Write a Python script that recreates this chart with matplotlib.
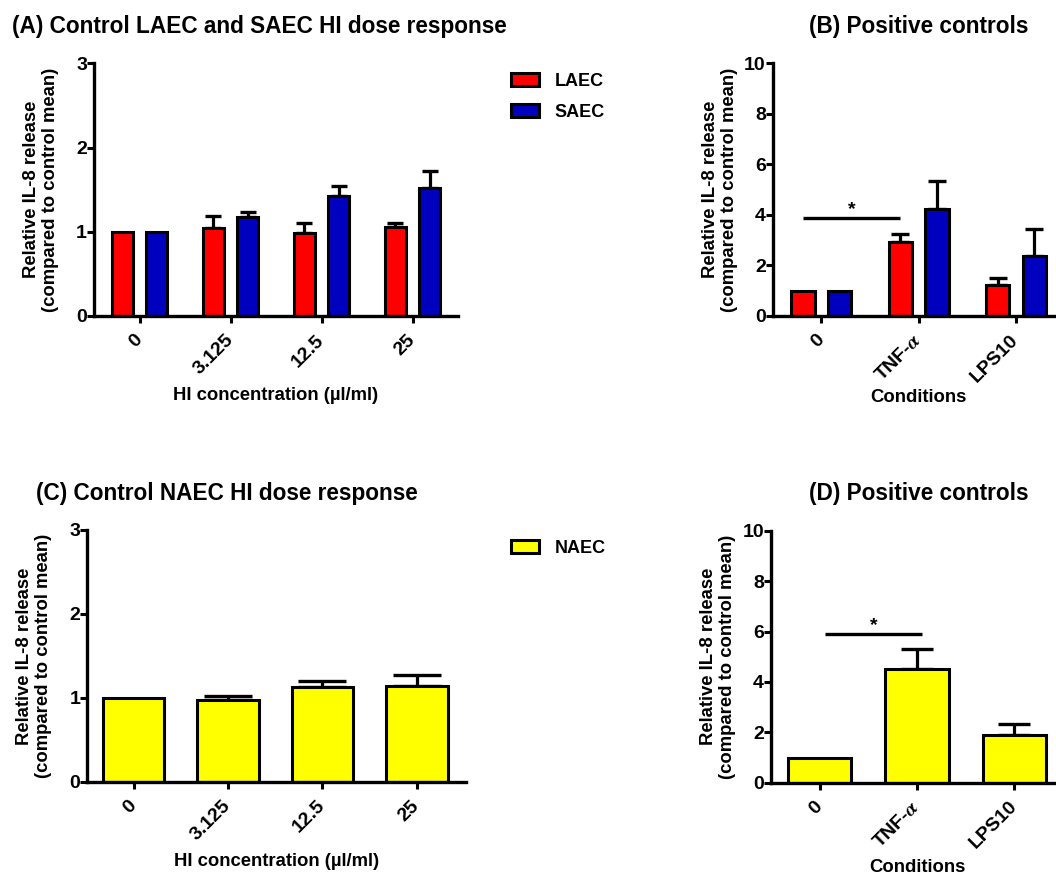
import numpy as np
import matplotlib
matplotlib.use("Agg")
import matplotlib.pyplot as plt

plt.rcParams["font.family"] = ["Liberation Sans", "DejaVu Sans"]
plt.rcParams["font.weight"] = "bold"
plt.rcParams["mathtext.fontset"] = "stix"

# ---- data ----
dose_labels = ["0", "3.125", "12.5", "25"]
laec_dose_mean = [1.00, 1.04, 0.99, 1.06]
laec_dose_sem = [0.00, 0.15, 0.11, 0.045]
saec_dose_mean = [1.00, 1.17, 1.42, 1.52]
saec_dose_sem = [0.00, 0.065, 0.12, 0.20]

cond_labels = ["0", "TNF-$\\alpha$", "LPS10"]
laec_cond_mean = [1.00, 2.94, 1.21]
laec_cond_sem = [0.00, 0.30, 0.31]
saec_cond_mean = [1.00, 4.23, 2.39]
saec_cond_sem = [0.00, 1.13, 1.05]

naec_dose_mean = [1.00, 0.97, 1.125, 1.145]
naec_dose_sem = [0.00, 0.055, 0.075, 0.13]

naec_cond_mean = [1.00, 4.52, 1.88]
naec_cond_sem = [0.00, 0.78, 0.44]

# significance bars: (first category, second category, height)
sig_two = (0, 1, 3.87)
sig_one = (0, 1, 5.89)

series_two = ["LAEC", "SAEC"]
series_one = ["NAEC"]

RED, BLUE, YELLOW = "#ff0000", "#0000bf", "#ffff00"

W, H = 1056, 877
fig = plt.figure(figsize=(W / 100, H / 100), dpi=100)


def px_rect(left, right, top, bottom):
    return [left / W, 1 - bottom / H, (right - left) / W, (bottom - top) / H]


YLABEL = "Relative IL-8 release\n(compared to control mean)"


def style_axes(ax, width_px, xlabel, ylim, yticks, xlabel_y_px, height_px):
    for s in ("top", "right"):
        ax.spines[s].set_visible(False)
    for s in ("left", "bottom"):
        ax.spines[s].set_linewidth(2.4)
    ax.set_ylim(*ylim)
    ax.set_yticks(yticks)
    ax.tick_params(axis="both", length=5, width=2.2, labelsize=14)
    ax.tick_params(axis="y", pad=0)
    ax.tick_params(axis="x", pad=10.5)
    for lab in ax.get_xticklabels():
        lab.set_rotation(45)
        lab.set_ha("right")
        lab.set_va("center")
        lab.set_rotation_mode("anchor")
    ax.set_ylabel(YLABEL, fontsize=13.3, fontweight="bold", linespacing=1.15)
    ax.yaxis.label.set_va("center")
    ax.yaxis.set_label_coords(-53 / width_px, 0.5)
    ax.set_xlabel(xlabel, fontsize=13.3, fontweight="bold")
    ax.xaxis.label.set_va("center")
    ax.xaxis.set_label_coords(0.5, -xlabel_y_px / height_px)


def draw_errors(ax, x, mean, sem, capsize):
    idx = [i for i, s in enumerate(sem) if s > 0]
    xs = np.asarray(x, dtype=float)[idx]
    ms = np.asarray(mean)[idx]
    ss = np.asarray(sem)[idx]
    ax.errorbar(xs, ms, yerr=[np.zeros_like(ss), ss], fmt="none",
                ecolor="black", elinewidth=2.3, capsize=capsize,
                capthick=2.4, zorder=1)


def draw_sig(ax, sig, offset):
    a, b, h = sig
    ax.plot([a + offset, b + offset], [h, h], color="black", lw=2.4,
            solid_capstyle="butt", zorder=4)
    ax.text((a + b) / 2 + offset, h, "*", ha="center", va="bottom",
            fontsize=14, fontweight="bold")


def grouped(ax, labels, means, sems, colors, names, width, offset, capsize):
    x = np.arange(len(labels))
    n = len(means)
    for k in range(n):
        pos = x + (k - (n - 1) / 2) * 2 * offset if n > 1 else x
        ax.bar(pos, means[k], width=width, color=colors[k], edgecolor="black",
               linewidth=2.2, label=names[k], zorder=2)
        draw_errors(ax, pos, means[k], sems[k], capsize)
    ax.set_xticks(x)
    ax.set_xticklabels(labels)
    return x


# ---- (A) ----
rA = (94, 458, 63.3, 316)
axA = fig.add_axes(px_rect(*rA))
grouped(axA, dose_labels, [laec_dose_mean, saec_dose_mean],
        [laec_dose_sem, saec_dose_sem], [RED, BLUE], series_two,
        0.235, 0.187, 5.5)
axA.set_xlim(-0.5, 3.5)
style_axes(axA, rA[1] - rA[0], "HI concentration (\u00b5l/ml)", (0, 3),
           [0, 1, 2, 3], 396 - rA[3], rA[3] - rA[2])

# ---- (B) ----
rB = (772.7, 1064.6, 63.3, 316)
axB = fig.add_axes(px_rect(*rB))
grouped(axB, cond_labels, [laec_cond_mean, saec_cond_mean],
        [laec_cond_sem, saec_cond_sem], [RED, BLUE], series_two,
        0.24, 0.188, 6.5)
axB.set_xlim(-0.5, 2.5)
style_axes(axB, rB[1] - rB[0], "Conditions", (0, 10), [0, 2, 4, 6, 8, 10],
           398 - rB[3], rB[3] - rB[2])
draw_sig(axB, sig_two, -0.188)

# ---- (C) ----
rC = (87.3, 466, 530, 781.7)
axC = fig.add_axes(px_rect(*rC))
grouped(axC, dose_labels, [naec_dose_mean], [naec_dose_sem], [YELLOW],
        series_one, 0.65, 0.0, 17)
axC.set_xlim(-0.49, 3.52)
style_axes(axC, rC[1] - rC[0], "HI concentration (\u00b5l/ml)", (0, 3),
           [0, 1, 2, 3], 861.7 - rC[3], rC[3] - rC[2])

# ---- (D) ----
rD = (771, 1063, 530.7, 782.7)
axD = fig.add_axes(px_rect(*rD))
grouped(axD, cond_labels, [naec_cond_mean], [naec_cond_sem], [YELLOW],
        series_one, 0.65, 0.0, 11.5)
axD.set_xlim(-0.5, 2.5)
style_axes(axD, rD[1] - rD[0], "Conditions", (0, 10), [0, 2, 4, 6, 8, 10],
           868 - rD[3], rD[3] - rD[2])
draw_sig(axD, sig_one, 0.055)

# ---- titles ----
title_kw = dict(fontsize=16.3, fontweight="bold", ha="center", va="baseline")
fig.text(259 / W, 1 - 33.5 / H, "(A) Control LAEC and SAEC HI dose response", **title_kw)
fig.text(919 / W, 1 - 33.5 / H, "(B) Positive controls", **title_kw)
fig.text(227 / W, 1 - 500 / H, "(C) Control NAEC HI dose response", **title_kw)
fig.text(919 / W, 1 - 500 / H, "(D) Positive controls", **title_kw)

# ---- legends ----
leg_kw = dict(frameon=False, fontsize=13, handlelength=1.55, handleheight=0.7,
              handletextpad=0.85, labelspacing=0.78, borderpad=0,
              borderaxespad=0, loc="upper left")
axA.legend(bbox_to_anchor=(511 / W, 1 - 73 / H),
           bbox_transform=fig.transFigure, **leg_kw)
axC.legend(bbox_to_anchor=(511 / W, 1 - 540 / H),
           bbox_transform=fig.transFigure, **leg_kw)

fig.savefig("out.png", dpi=100)
